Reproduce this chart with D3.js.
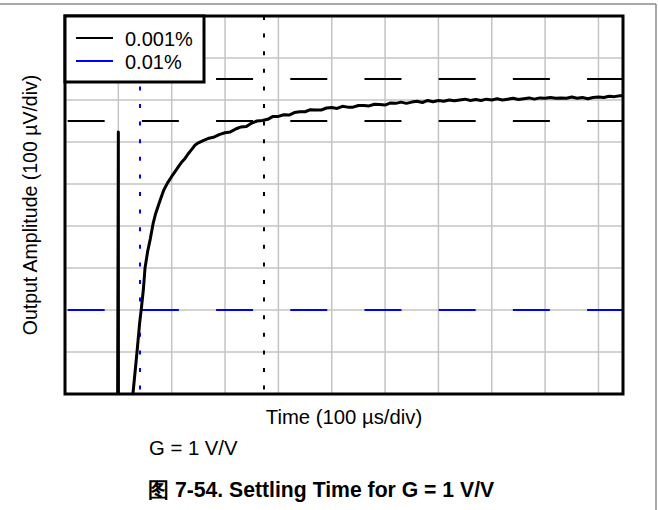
<head>
    <meta charset="utf-8"/>
    <script src="https://d3js.org/d3.v7.min.js"></script>
    <style>
        body { margin: 0; background: #fff; }
        text { font-family: "Liberation Sans", Arial, sans-serif; fill: #000; }
    </style>
</head>
<body>
    <svg id="settle" width="658" height="510"></svg>
    <script>
        // settling waveform, time in us, amplitude in uV relative to final value
        let timeUs = [98, 100, 100.3, 122, 127.5, 135, 140, 143, 147, 150, 155, 160, 165, 170, 178, 185, 192,
            200, 206, 212, 218, 225, 231, 238, 244,
            250, 260, 270, 280, 290, 300, 310, 320, 330, 340, 350, 360, 370, 380, 390,
            400, 410, 420, 430, 440, 450, 460, 470, 480, 490, 500, 510, 520, 530, 540, 550,
            560, 570, 580, 590, 600, 610, 620, 630, 640, 650, 660, 670, 680, 690, 700,
            710, 720, 730, 740, 750, 760, 770, 780, 790, 800, 810, 820, 830, 840, 850,
            860, 870, 880, 890, 900, 910, 920, 930, 940, 950, 960, 970, 980, 990, 1000,
            1010, 1020, 1030, 1040, 1046];
        let ampUv = [-1000, -76, -1000, -1000, -698, -600, -530, -498, -450, -400, -360, -330, -295, -270, -240, -215, -198,
            -182, -171, -160, -149, -139, -128, -117, -107,
            -102, -96, -91, -88, -82, -78, -76, -69, -64, -63, -55, -50, -49, -46, -39,
            -39, -35, -36, -30, -28, -28, -23, -24, -24, -19, -18, -20, -15, -17, -17, -13,
            -13, -14, -10, -11, -12, -7, -8, -5, -8, -5, -3, -6, -1, -4, -1,
            -3, 0, -2, 0, 2, -1, 1, -1, 2, 0, 3, 0, 2, 4, 1,
            3, 5, 2, 5, 4, 6, 4, 5, 4, 7, 4, 6, 3, 6, 7,
            6, 9, 8, 10, 10];

        let bandLevels = [50, -50, -500, 500];      // +/-0.001% and +/-0.01% of the step
        let bandColors = ["#000", "#000", "#0000ff", "#0000ff"];
        let settleTimes = [373, 140.6];             // where each band is reached
        let settleColors = ["#000", "#0000ff"];
        let legendLabels = ["0.001%", "0.01%"];
        let legendColors = ["#000", "#0000ff"];

        let svg = d3.select("svg#settle");
        let xScale = d3.scaleLinear().domain([0, 1046]).range([65, 623]);
        let yScale = d3.scaleLinear().domain([-700, 200]).range([394, 16]);

        // outer frame of the figure
        svg.append("line").attr("x1", 0).attr("x2", 656).attr("y1", 4).attr("y2", 4)
            .style("stroke", "#8a8a8a").style("stroke-width", 1.5);
        svg.append("line").attr("x1", 656).attr("x2", 656).attr("y1", 4).attr("y2", 510)
            .style("stroke", "#8a8a8a").style("stroke-width", 1.5);

        svg.append("clipPath").attr("id", "plotclip")
            .append("rect")
            .attr("x", xScale(0)).attr("y", yScale(200))
            .attr("width", xScale(1046) - xScale(0))
            .attr("height", yScale(-700) - yScale(200));

        // grid
        for (let i = 100; i <= 1000; i += 100) {
            svg.append("line")
                .attr("x1", xScale(i)).attr("x2", xScale(i))
                .attr("y1", yScale(200)).attr("y2", yScale(-700))
                .style("stroke", "#c4c4c4")
                .style("stroke-width", 1.5);
        }
        for (let v = -600; v <= 100; v += 100) {
            svg.append("line")
                .attr("x1", xScale(0)).attr("x2", xScale(1046))
                .attr("y1", yScale(v)).attr("y2", yScale(v))
                .style("stroke", "#c4c4c4")
                .style("stroke-width", 1.5);
        }

        let plot = svg.append("g").attr("clip-path", "url(#plotclip)");

        // settling bands
        bandLevels.forEach(function(d, i) {
            plot.append("line")
                .attr("x1", xScale(5)).attr("x2", xScale(1046))
                .attr("y1", yScale(d)).attr("y2", yScale(d))
                .style("stroke", bandColors[i])
                .style("stroke-width", 2)
                .style("stroke-dasharray", "37,37.2");
        });

        // settling time markers
        settleTimes.forEach(function(d, i) {
            plot.append("line")
                .attr("x1", xScale(d)).attr("x2", xScale(d))
                .attr("y1", yScale(200)).attr("y2", yScale(-700))
                .style("stroke", settleColors[i])
                .style("stroke-width", 2)
                .style("stroke-dasharray", "4,13.6");
        });

        let points = timeUs.map(function(t, i) { return [t, ampUv[i]]; });
        let line = d3.line()
            .x(function(d) { return xScale(d[0]); })
            .y(function(d) { return yScale(d[1]); });
        plot.append("path")
            .datum(points)
            .attr("d", line)
            .style("fill", "none")
            .style("stroke", "#000")
            .style("stroke-width", 3)
            .style("stroke-linejoin", "round");

        // plot border
        svg.append("rect")
            .attr("x", xScale(0)).attr("y", yScale(200))
            .attr("width", xScale(1046) - xScale(0))
            .attr("height", yScale(-700) - yScale(200))
            .style("fill", "none")
            .style("stroke", "#000")
            .style("stroke-width", 3);

        // legend
        svg.append("rect")
            .attr("x", 65).attr("y", 16).attr("width", 139).attr("height", 66)
            .style("fill", "#fff")
            .style("stroke", "#000")
            .style("stroke-width", 3);
        legendLabels.forEach(function(d, i) {
            svg.append("line")
                .attr("x1", 76).attr("x2", 113)
                .attr("y1", 38 + i * 23).attr("y2", 38 + i * 23)
                .style("stroke", legendColors[i])
                .style("stroke-width", 2);
            svg.append("text")
                .text(d)
                .attr("x", 125)
                .attr("y", 45.5 + i * 23)
                .style("font-size", "20px");
        });

        // labels
        svg.append("text")
            .text("Output Amplitude (100 µV/div)")
            .attr("text-anchor", "middle")
            .attr("transform", "translate(37,205) rotate(-90)")
            .style("font-size", "19.5px");
        svg.append("text")
            .text("Time (100 µs/div)")
            .attr("text-anchor", "middle")
            .attr("x", 344).attr("y", 424)
            .style("font-size", "20.3px");
        svg.append("text")
            .text("G = 1 V/V")
            .attr("x", 149).attr("y", 455)
            .style("font-size", "20.3px");
        svg.append("text")
            .text("图 7-54. Settling Time for G = 1 V/V")
            .attr("x", 148).attr("y", 497)
            .style("font-size", "21.2px")
            .style("font-weight", "bold");
    </script>
</body>
